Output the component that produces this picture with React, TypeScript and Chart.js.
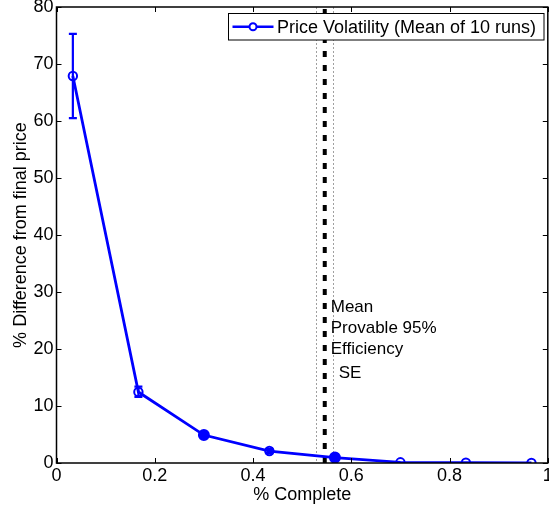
import React, { useEffect, useRef } from "react";
import { Chart, registerables } from "chart.js";

Chart.register(...registerables);

const FONT = '"Liberation Sans", Arial, Helvetica, sans-serif';

const percentComplete = [0.0333, 0.1667, 0.3, 0.4333, 0.5667, 0.7, 0.8333, 0.9667];
const meanDiff = [67.9, 12.45, 4.9, 2.1, 0.95, 0.12, 0.05, 0.03];
const errLow = [60.5, 11.6, 4.6, 1.75, 0.7, 0.1, 0.05, 0.03];
const errHigh = [75.3, 13.4, 5.2, 2.45, 1.2, 0.14, 0.05, 0.03];
const filledMarker = [false, false, true, false, true, false, false, false];

const efficiencyMean = 0.546;
const efficiencySE = 0.017;
const annotationLines = ["Mean", "Provable 95%", "Efficiency"];
const annotationSE = "SE";
const annotationY = 27.3;
const annotationSEY = 15.8;

const xTicks = [0, 0.2, 0.4, 0.6, 0.8, 1];
const yTicks = [0, 10, 20, 30, 40, 50, 60, 70, 80];

const legendLabel = "Price Volatility (Mean of 10 runs)";
const xTitle = "% Complete";
const yTitle = "% Difference from final price";
const BLUE = "#0000ff";

const overlayPlugin = {
  id: "overlay",
  beforeDatasetsDraw(chart: any) {
    const { ctx, chartArea, scales } = chart;
    const xs = scales.x;
    ctx.save();
    ctx.strokeStyle = "#a0a0a0";
    ctx.lineWidth = 1;
    ctx.setLineDash([2, 2]);
    for (const v of [efficiencyMean - efficiencySE, efficiencyMean + efficiencySE]) {
      const px = Math.round(xs.getPixelForValue(v)) + 0.5;
      ctx.beginPath();
      ctx.moveTo(px, chartArea.top);
      ctx.lineTo(px, chartArea.bottom);
      ctx.stroke();
    }
    ctx.strokeStyle = "#000";
    ctx.lineWidth = 4;
    ctx.setLineDash([6, 8]);
    const mx = xs.getPixelForValue(efficiencyMean);
    ctx.beginPath();
    ctx.moveTo(mx, chartArea.bottom);
    ctx.lineTo(mx, chartArea.top);
    ctx.stroke();
    ctx.setLineDash([]);
    ctx.restore();
  },
  afterDatasetsDraw(chart: any) {
    const { ctx, scales } = chart;
    const xs = scales.x;
    const ys = scales.y;
    ctx.save();
    ctx.strokeStyle = BLUE;
    ctx.lineWidth = 2.2;
    for (let i = 0; i < percentComplete.length; i++) {
      if (errHigh[i] - errLow[i] < 0.05) continue;
      const px = xs.getPixelForValue(percentComplete[i]);
      const y1 = ys.getPixelForValue(errLow[i]);
      const y2 = ys.getPixelForValue(errHigh[i]);
      ctx.beginPath();
      ctx.moveTo(px, y1);
      ctx.lineTo(px, y2);
      ctx.moveTo(px - 4, y1);
      ctx.lineTo(px + 4, y1);
      ctx.moveTo(px - 4, y2);
      ctx.lineTo(px + 4, y2);
      ctx.stroke();
    }
    ctx.fillStyle = "#000";
    ctx.font = `17px ${FONT}`;
    ctx.textAlign = "left";
    ctx.textBaseline = "middle";
    const ax = xs.getPixelForValue(efficiencyMean) + 6;
    const ay = ys.getPixelForValue(annotationY);
    annotationLines.forEach((t, i) => ctx.fillText(t, ax, ay + i * 20.8));
    ctx.fillText(annotationSE, ax + 8, ys.getPixelForValue(annotationSEY));
    ctx.restore();
  },
  afterDraw(chart: any) {
    const { ctx, chartArea, scales } = chart;
    const { left, right, top, bottom } = chartArea;
    const xs = scales.x;
    const ys = scales.y;
    ctx.save();
    ctx.strokeStyle = "#000";
    ctx.lineWidth = 1;
    ctx.beginPath();
    for (const v of xTicks) {
      const px = Math.round(xs.getPixelForValue(v)) + 0.5;
      ctx.moveTo(px, bottom);
      ctx.lineTo(px, bottom - 5);
      ctx.moveTo(px, top);
      ctx.lineTo(px, top + 5);
    }
    for (const v of yTicks) {
      const py = Math.round(ys.getPixelForValue(v)) + 0.5;
      ctx.moveTo(left, py);
      ctx.lineTo(left + 5, py);
      ctx.moveTo(right, py);
      ctx.lineTo(right - 5, py);
    }
    ctx.stroke();
    ctx.lineWidth = 1.5;
    ctx.strokeRect(left, top, right - left, bottom - top);

    const lx = 228.5, ly = 13.5, lw = 315.5, lh = 26.5;
    ctx.fillStyle = "#fff";
    ctx.fillRect(lx, ly, lw, lh);
    ctx.lineWidth = 1;
    ctx.strokeRect(lx, ly, lw, lh);
    const cy = ly + lh / 2;
    ctx.strokeStyle = BLUE;
    ctx.lineWidth = 2.5;
    ctx.beginPath();
    ctx.moveTo(lx + 4, cy);
    ctx.lineTo(lx + 45, cy);
    ctx.stroke();
    ctx.lineWidth = 2;
    ctx.beginPath();
    ctx.arc(lx + 24.5, cy, 3.5, 0, Math.PI * 2);
    ctx.fillStyle = "#fff";
    ctx.fill();
    ctx.stroke();
    ctx.fillStyle = "#000";
    ctx.font = `18px ${FONT}`;
    ctx.textAlign = "left";
    ctx.textBaseline = "middle";
    ctx.fillText(legendLabel, lx + 48.5, cy + 1);
    ctx.restore();
  },
};

export default function App() {
  const ref = useRef<HTMLCanvasElement | null>(null);
  useEffect(() => {
    if (!ref.current) return;
    const chart = new Chart(ref.current, {
      type: "scatter",
      data: {
        datasets: [
          {
            label: legendLabel,
            data: percentComplete.map((x, i) => ({ x, y: meanDiff[i] })),
            showLine: true,
            borderColor: BLUE,
            borderWidth: 2.8,
            pointRadius: filledMarker.map((f) => (f ? 5 : 4.2)),
            pointBorderWidth: 2,
            pointBorderColor: BLUE,
            pointBackgroundColor: filledMarker.map((f) => (f ? BLUE : "rgba(255,255,255,0)")),
            tension: 0,
          },
        ],
      },
      options: {
        animation: false,
        responsive: false,
        layout: { padding: { left: 0, right: 1, top: 7, bottom: 0 } },
        plugins: { legend: { display: false }, tooltip: { enabled: false } },
        scales: {
          x: {
            type: "linear",
            min: 0,
            max: 1,
            grid: { display: false, drawTicks: false },
            border: { display: false },
            afterBuildTicks: (s: any) => {
              s.ticks = xTicks.map((value) => ({ value }));
            },
            afterFit: (s: any) => {
              s.height = 47;
              s.paddingLeft = 0;
              s.paddingRight = 0;
            },
            ticks: {
              color: "#000",
              padding: 2,
              maxRotation: 0,
              font: { family: FONT, size: 18 },
              callback: (v: any) => String(Math.round(Number(v) * 10) / 10),
            },
            title: {
              display: true,
              text: xTitle,
              color: "#000",
              font: { family: FONT, size: 18 },
              padding: { top: 0, bottom: 4 },
            },
          },
          y: {
            type: "linear",
            min: 0,
            max: 80,
            grid: { display: false, drawTicks: false },
            border: { display: false },
            afterBuildTicks: (s: any) => {
              s.ticks = yTicks.map((value) => ({ value }));
            },
            afterFit: (s: any) => {
              s.width = 56.5;
              s.paddingTop = 0;
              s.paddingBottom = 0;
            },
            ticks: {
              color: "#000",
              padding: 3,
              font: { family: FONT, size: 18 },
            },
            title: {
              display: true,
              text: yTitle,
              color: "#000",
              font: { family: FONT, size: 18 },
              padding: { top: 10, bottom: 0 },
            },
          },
        },
      },
      plugins: [overlayPlugin],
    } as any);
    return () => chart.destroy();
  }, []);
  return (
    <div style={{ position: "absolute", left: 0, top: 0, width: 549, height: 510, overflow: "hidden", background: "#fff" }}>
      <canvas ref={ref} width={554} height={510} style={{ display: "block" }} />
    </div>
  );
}
